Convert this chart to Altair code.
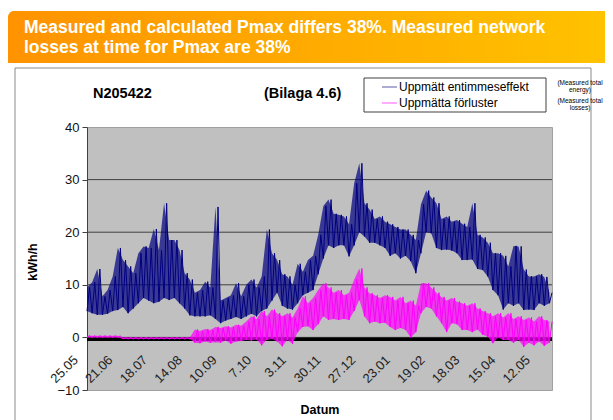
import altair as alt
import pandas as pd

FONT = "Liberation Sans, Arial, sans-serif"

# ---------------- data ----------------
series_names = ["Uppmätt entimmeseffekt", "Uppmätta förluster"]
series_notes = [["(Measured total", "energy)"], ["(Measured total", "losses)"]]
series_colors = ["#000080", "#FF00FF"]

# day offsets (from 25.05) of the low samples; the high sample sits 2 days later
sample_days = list(range(0, 361, 4))

blue_lo = [5.0, 4.6, 4.3, 4.3, 4.5, 5.0, 5.2, 5.8, 4.6, 5.5,
           6.5, 7.5, 7.0, 6.5, 6.8, 7.5, 7.1, 7.5, 6.5, 5.5,
           4.2, 4.0, 4.0, 4.0, 4.2, 3.5, 2.7, 3.2, 3.5, 3.9,
           3.5, 4.0, 4.5, 4.0, 5.0, 5.5, 7.0, 8.5, 6.0, 5.5,
           5.3, 6.5, 8.0, 8.5, 9.0, 12.0, 15.0, 17.5, 17.0, 17.5,
           17.5, 15.4, 17.5, 20.0, 19.2, 18.0, 18.0, 17.5, 17.0, 15.5,
           16.0, 15.0, 15.5, 14.5, 12.2, 16.0, 20.0, 19.8, 17.0, 16.6,
           16.7, 16.5, 16.0, 14.7, 14.7, 14.8, 13.0, 12.8, 11.6, 9.0,
           8.0, 5.3, 6.5, 6.0, 6.5, 5.2, 5.3, 5.2, 6.5, 6.0,
           6.5]
blue_hi = [9.5, 10.5, 13.0, 7.8, 9.0, 11.6, 17.0, 14.7, 13.5, 12.2,
           16.0, 17.3, 17.0, 20.6, 16.6, 25.5, 18.5, 18.5, 16.6, 12.2,
           11.0, 8.5, 9.0, 10.6, 9.5, 24.8, 7.0, 7.5, 8.0, 10.3,
           7.8, 10.0, 11.0, 9.5, 11.6, 20.5, 16.0, 14.7, 12.0, 11.6,
           10.0, 14.0, 12.5, 14.7, 15.5, 19.5, 25.0, 26.2, 23.5, 23.3,
           23.0, 21.5, 29.3, 33.1, 25.5, 24.3, 22.5, 23.0, 22.0, 21.5,
           21.0, 20.5, 20.5, 19.5, 18.5, 25.3, 27.9, 26.6, 25.5, 22.5,
           23.0, 22.0, 22.3, 21.6, 21.0, 25.5, 19.5, 19.0, 18.0, 16.0,
           16.0, 15.5, 13.5, 17.4, 17.3, 12.9, 11.6, 11.6, 12.0, 11.5,
           8.5]

mag_lo = [0.0, 0.0, 0.0, 0.0, 0.0, 0.0, 0.0, -0.3, -0.3, -0.3,
          -0.3, -0.3, -0.3, -0.3, -0.3, -0.3, -0.3, -0.3, -0.3, -0.3,
          -0.3, -1.0, -1.1, -0.8, -1.0, -0.9, -1.0, -0.6, -1.2, -0.8,
          -0.7, -0.5, -0.6, -0.4, -1.5, -0.5, -0.3, -0.8, -1.7, -0.5,
          -1.2, 1.0, 2.0, 2.1, 1.4, 2.5, 4.0, 3.3, 3.5, 3.3,
          3.5, 3.3, 5.0, 7.1, 4.0, 2.7, 3.0, 2.7, 2.8, 2.0,
          1.4, 1.8, 1.4, 0.0, 1.0, 4.6, 5.8, 5.5, 4.0, 2.7,
          1.0, 2.7, 2.5, 1.4, 1.4, 1.0, 1.5, 0.5, 0.1, -1.1,
          0.0, -0.5, -0.5, -1.0, -0.5, -1.8, -1.0, -1.5, -0.8, -1.6,
          -1.0]
mag_hi = [0.3, 0.3, 0.3, 0.3, 0.3, 0.3, 0.3, 0.0, 0.0, 0.0,
          0.0, 0.0, 0.0, 0.0, 0.0, 0.0, 0.0, 0.0, 0.0, 0.0,
          0.0, 1.5, 1.2, 1.6, 1.4, 2.0, 1.8, 2.1, 1.9, 2.4,
          2.2, 3.0, 4.0, 3.5, 5.0, 4.0, 5.3, 4.6, 4.0, 4.6,
          3.8, 5.5, 7.8, 6.5, 7.5, 9.0, 10.3, 9.5, 8.5, 9.0,
          8.0, 8.5, 11.0, 13.1, 9.5, 8.4, 8.0, 7.5, 8.0, 7.7,
          7.0, 7.7, 6.5, 7.0, 6.0, 10.3, 10.3, 9.5, 8.5, 7.7,
          7.0, 7.5, 6.8, 6.5, 6.0, 6.5, 5.5, 5.0, 4.6, 4.0,
          4.6, 3.8, 4.6, 3.5, 4.0, 3.3, 3.8, 3.0, 4.0, 3.3,
          3.0]

axis_band_value = [-0.35]
grid_values = [0, 10, 20, 30]
y_ticks = [-10, 0, 10, 20, 30, 40]
tick_labels = ["25.05", "21.06", "18.07", "14.08", "10.09", "7.10", "3.11",
               "30.11", "27.12", "23.01", "19.02", "18.03", "15.04", "12.05"]
tick_days = [0, 27, 54, 81, 108, 135, 162, 189, 216, 243, 270, 297, 325, 352]

banner_lines = ["Measured and calculated Pmax differs 38%. Measured network",
                "losses at time for Pmax are 38%"]
chart_id = "N205422"
chart_ref = "(Bilaga 4.6)"
y_title = "kWh/h"
x_title = "Datum"

# ---------------- tables ----------------
def zigzag(lo, hi, name):
    rows = []
    for d, a, b in zip(sample_days, lo, hi):
        rows.append({"day": d, "value": a, "series": name})
        rows.append({"day": d + 2, "value": b, "series": name})
    return pd.DataFrame(rows)

blue_df = zigzag(blue_lo, blue_hi, series_names[0])
mag_df = zigzag(mag_lo, mag_hi, series_names[1])
blue_band = pd.DataFrame({"day": sample_days, "value": blue_lo, "hi": blue_hi})
mag_band = pd.DataFrame({"day": sample_days, "value": mag_lo, "hi": mag_hi})
grid_df = pd.DataFrame({"value": grid_values})
band_df = pd.DataFrame({"value": axis_band_value})
lab_df = pd.DataFrame({"day": tick_days, "label": tick_labels})
one = pd.DataFrame({"k": [0]})

W, H = 465, 263

xs = alt.Scale(domain=[0, 362], nice=False, zero=False)
ys = alt.Scale(domain=[-10, 40], nice=False, zero=False)
X = alt.X("day:Q", scale=xs, axis=None)
Y = alt.Y("value:Q", scale=ys, title=None,
          axis=alt.Axis(values=y_ticks, grid=False, tickSize=5, labelPadding=3,
                        labelFont=FONT, labelFontSize=13, labelColor="#111",
                        domainColor="#404040", tickColor="#404040"))

grid = alt.Chart(grid_df).mark_rule(color="#404040", strokeWidth=1).encode(y=Y)
band = alt.Chart(band_df).mark_rule(color="black", strokeWidth=3.5).encode(y=Y)
blue_area = alt.Chart(blue_band).mark_area(color=series_colors[0], opacity=0.7).encode(
    x=X, y=Y, y2="hi:Q")
blue = alt.Chart(blue_df).mark_line(color=series_colors[0], strokeWidth=1).encode(x=X, y=Y)
mag_area = alt.Chart(mag_band).mark_area(color=series_colors[1], opacity=0.7).encode(
    x=X, y=Y, y2="hi:Q")
mag = alt.Chart(mag_df).mark_line(color=series_colors[1], strokeWidth=1).encode(x=X, y=Y)
xlab = alt.Chart(lab_df).mark_text(
    angle=315, align="right", baseline="middle", font=FONT, fontSize=13,
    color="#222", dx=-7.8, dy=-7.8
).encode(x=X, y=alt.value(231), text="label:N")


def txt(t, x, y, size, weight="normal", align="left", color="black", angle=0):
    return alt.Chart(one).mark_text(
        text=t, align=align, baseline="middle", font=FONT, fontSize=size,
        fontWeight=weight, color=color, angle=angle
    ).encode(x=alt.value(x), y=alt.value(y))


def box(x1, x2, y1, y2, **kw):
    return alt.Chart(one).mark_rect(**kw).encode(
        x=alt.value(x1), x2=alt.value(x2), y=alt.value(y1), y2=alt.value(y2))


def hline(x1, x2, y, color, width=1, opacity=1):
    return alt.Chart(one).mark_rule(color=color, strokeWidth=width, opacity=opacity).encode(
        x=alt.value(x1), x2=alt.value(x2), y=alt.value(y))


grad = alt.LinearGradient(
    gradient="linear", x1=0, x2=1, y1=0, y2=0,
    stops=[alt.GradientStop(color="#FF9300", offset=0),
           alt.GradientStop(color="#FFC200", offset=1)])

deco = [
    box(-79, 520, -116, -64, fill=grad, cornerRadiusTopLeft=6),
    txt(banner_lines[0], -63, -99, 17.5, "bold", color="white"),
    txt(banner_lines[1], -63, -79, 17.5, "bold", color="white"),
    box(-72, 504, -59, 400, fill="white", fillOpacity=0, stroke="#8a8a8a", strokeWidth=1),
]

decor_top = [
    txt(chart_id, 6, -33, 14.5, "bold"),
    txt(chart_ref, 177, -33, 14.5, "bold"),
    box(277, 459, -49, -15, fill="white", stroke="#404040", strokeWidth=1),
    hline(295, 310, -40, series_colors[0], 1.2, 0.55),
    hline(295, 310, -24, series_colors[1], 1.2, 0.55),
    txt(series_names[0], 312, -40, 12),
    txt(series_names[1], 312, -24, 12),
    txt(series_notes[0][0], 493, -44, 6.5, align="center"),
    txt(series_notes[0][1], 493, -37, 6.5, align="center"),
    txt(series_notes[1][0], 493, -26, 6.5, align="center"),
    txt(series_notes[1][1], 493, -19, 6.5, align="center"),
    txt(y_title, -54, 135, 12.5, "bold", align="center", angle=270),
    txt(x_title, 233, 283, 12.5, "bold", align="center"),
]

chart = alt.layer(
    *deco, grid, band, blue_area, blue, mag_area, mag, xlab, *decor_top
).properties(
    width=W, height=H,
    padding={"left": 79, "top": 119, "right": 53, "bottom": 30},
    autosize=alt.AutoSizeParams(type="none"),
).configure_view(fill="#C0C0C0", stroke="#A0A0A0", strokeWidth=1)

chart.save("out.html", embed_options={"renderer": "svg", "actions": False})
